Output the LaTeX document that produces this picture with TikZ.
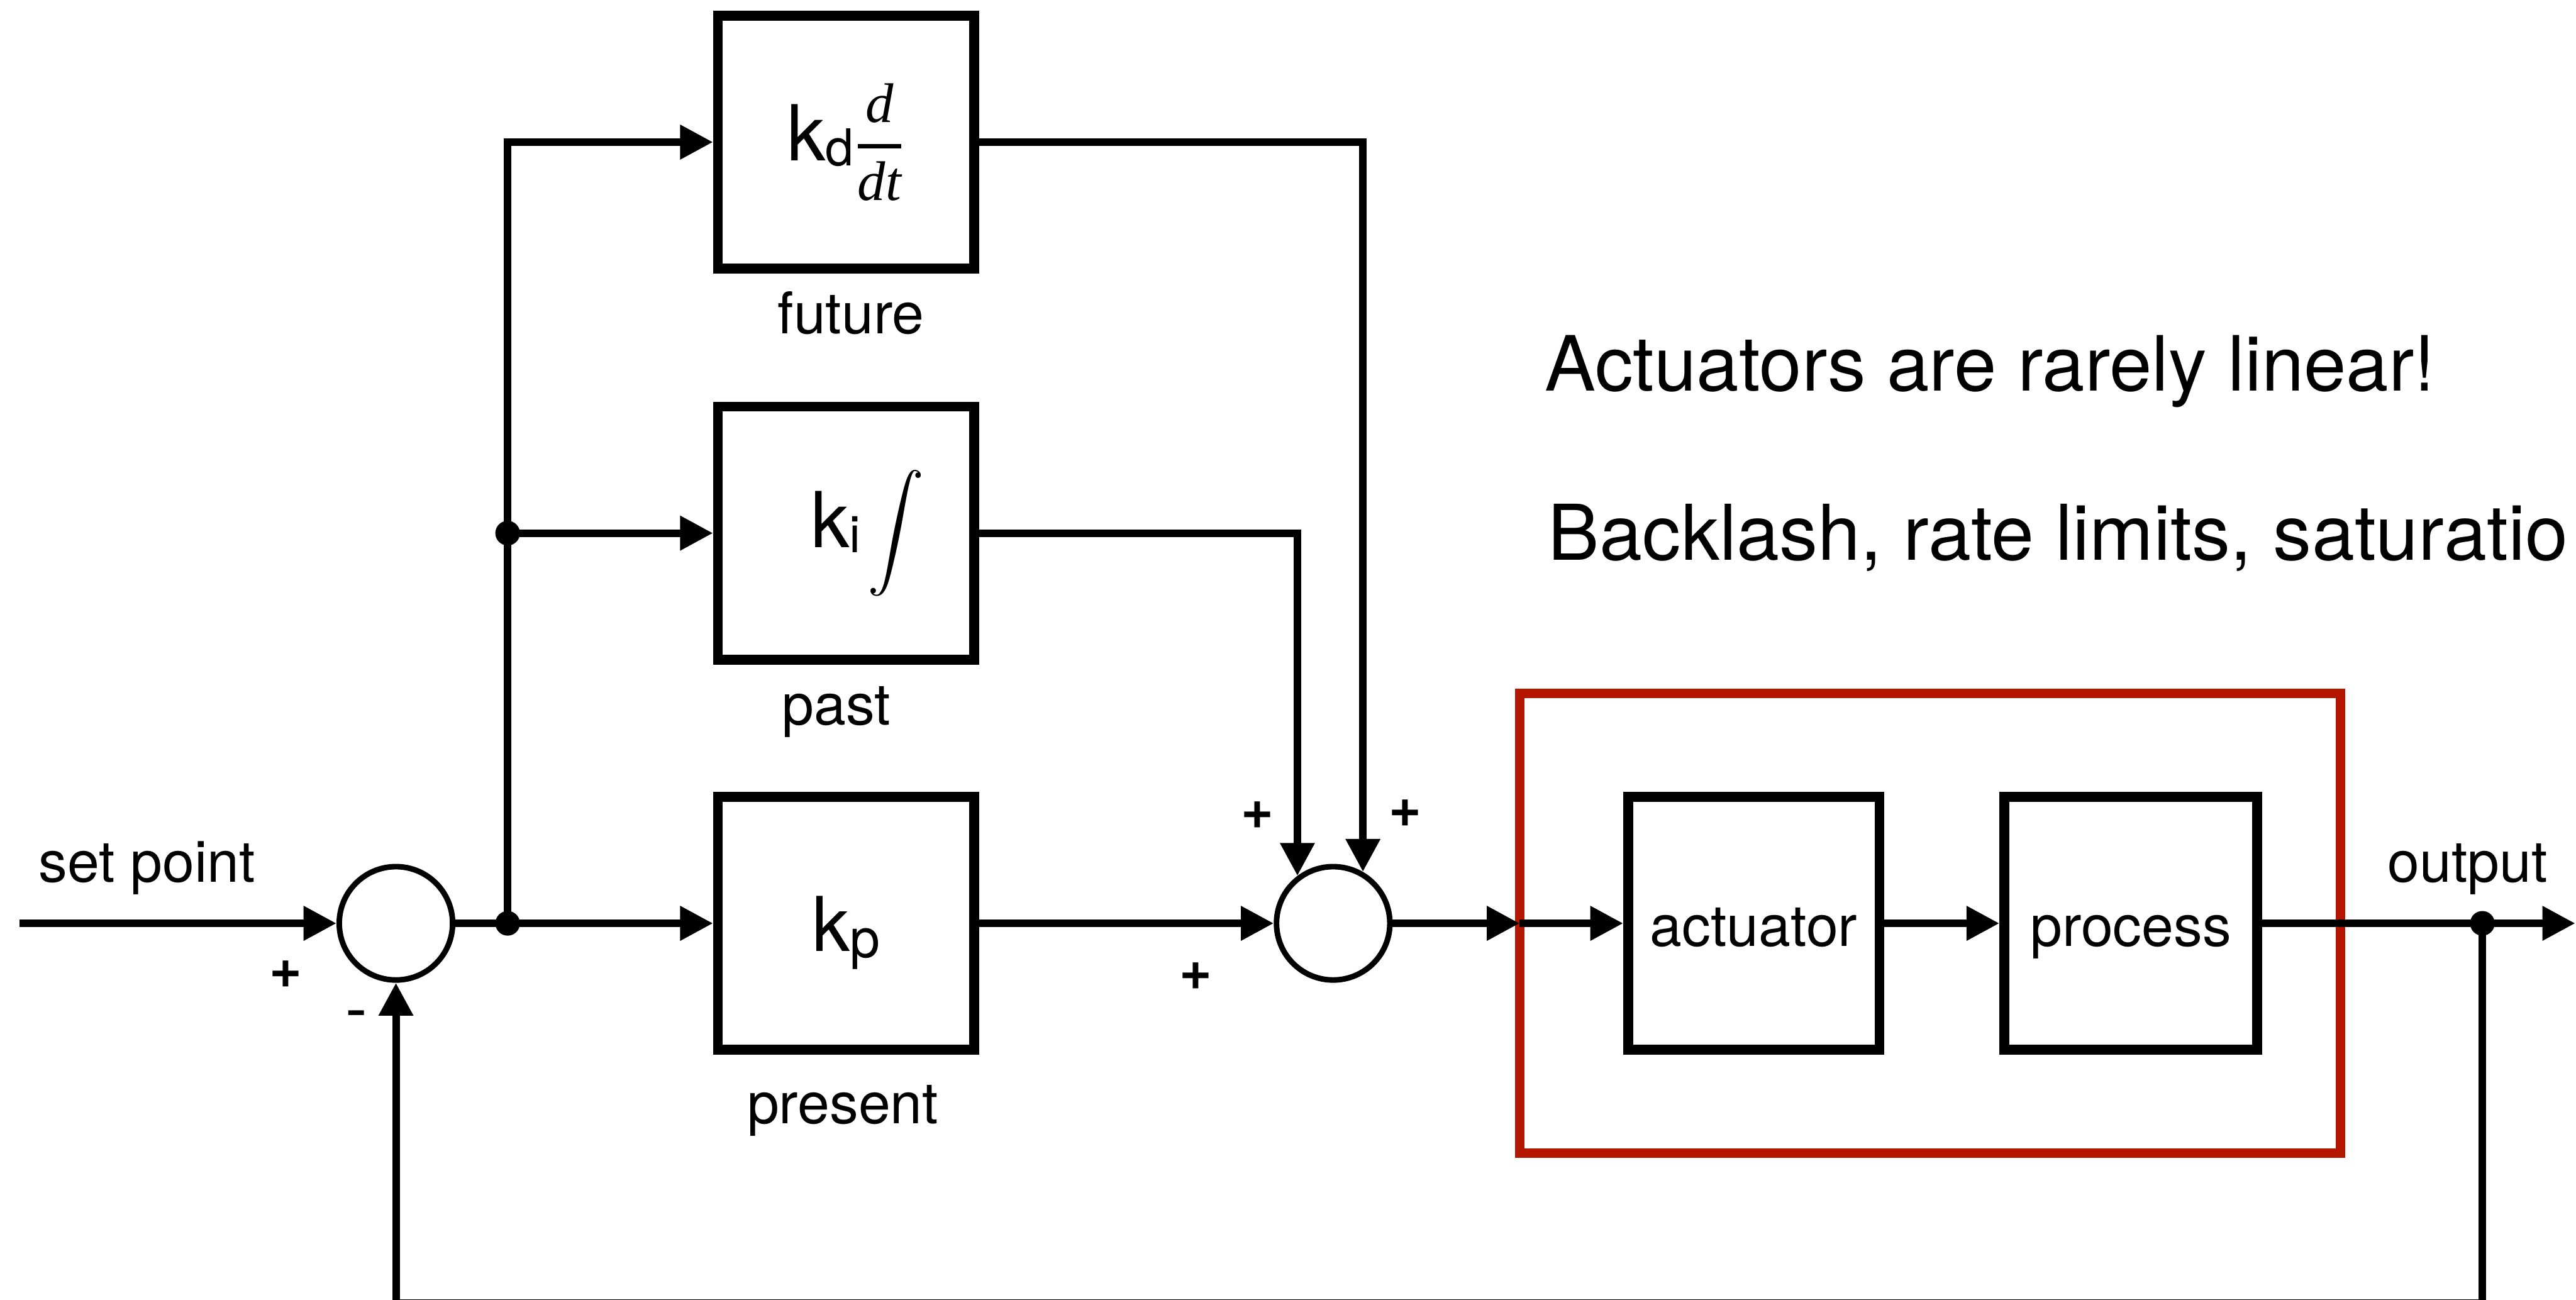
\documentclass[tikz,border=0pt]{standalone}
\usepackage{amsmath}
\usepackage{exscale}
\usepackage{fontspec}
\setmainfont{TeX Gyre Heros}
\newfontfamily\tms{Liberation Serif}
\usetikzlibrary{arrows.meta,calc}
\definecolor{redc}{RGB}{180,22,0}
\begin{document}
\begin{tikzpicture}[x=0.5pt,y=-0.5pt,
  blk/.style={draw, line width=3pt, minimum width=78pt, minimum height=77pt, inner sep=0pt},
  sumc/.style={draw, circle, line width=1.7pt, minimum size=34.5pt, inner sep=0pt},
  conn/.style={line width=2.3pt},
  arr/.style={conn, -{Triangle[length=10pt,width=10pt]}},
  dotn/.style={circle, fill, inner sep=0pt, minimum size=7.5pt},
  lbl/.style={font=\fontsize{17.5}{20}\selectfont, inner sep=0pt},
  sgn/.style={font=\fontsize{17}{20}\selectfont\bfseries, inner sep=0pt},
  msgn/.style={font=\fontsize{20}{22}\selectfont, inner sep=0pt},
  big/.style={inner sep=0pt, anchor=base west},
  redbox/.style={draw=redc, line width=2.8pt}]
\useasboundingbox (0,0) rectangle (1568,791);
\clip (0,0) rectangle (1568,791);

% red frame
\draw[redbox] (925,422) rectangle (1424.5,702);

% blocks
\node[blk] (kd) at (515,86.5) {{\fontsize{23.5}{24}\selectfont k}\raisebox{-1.5pt}{\fontsize{15.5}{15}\selectfont d}{\fontsize{17}{18}\selectfont$\genfrac{}{}{1.3pt}{0}{\text{\tms\itshape d}}{\text{\tms\itshape dt}}$}};
\node[blk] (ki) at (515,324.5) {\hspace*{13pt}{\fontsize{23.5}{24}\selectfont k}\raisebox{-1.5pt}{\fontsize{15.5}{15}\selectfont i}\hspace{2pt}{\fontsize{17.5}{18}\selectfont$\displaystyle\int$}};
\node[blk, text height=17pt, text depth=0pt] (kp) at (515,562) {{\fontsize{23}{24}\selectfont k}\raisebox{-2pt}{\fontsize{16.5}{16}\selectfont p}};
\node[blk, font=\fontsize{17.5}{20}\selectfont, minimum width=76.5pt, text height=14pt, text depth=0pt] (act) at (1067.5,562) {actuator};
\node[blk, font=\fontsize{17.5}{20}\selectfont, minimum width=77pt, text height=14pt, text depth=0pt] (proc) at (1297,562) {process};

% summing junctions
\node[sumc] (s1) at (241,562) {};
\node[sumc] (s2) at (811.5,562) {};

% branch dots
\node[dotn] (j1) at (309,562) {};
\node[dotn] (j2) at (309,324.5) {};
\node[dotn] (j3) at (1511,562) {};

% free ends
\coordinate (in) at (12,562);
\coordinate (out) at (1567.5,562);
\coordinate (rl) at (925,562);
\coordinate (fbR) at (1511,793.2);

% connectors
\draw[arr] (in) -- (s1.west);
\draw[conn] (s1.east) -- (j1.center);
\draw[arr] (j1.center) -- (kp.west);
\draw[arr] (j1.center) |- (kd.west);
\draw[arr] (j2.center) -- (ki.west);
\draw[arr] (kd.east) -| (s2.60);
\draw[arr] (ki.east) -| (s2.127);
\draw[arr] (kp.east) -- (s2.west);
\draw[arr] (s2.east) -- (rl);
\draw[arr] (rl) -- (act.west);
\draw[arr] (act.east) -- (proc.west);
\draw[arr] (proc.east) -- (out);
\draw[arr] (j3.center) -- (fbR) -| (s1.south);

% labels
\node[lbl, anchor=base] (lsp) at (89.5,537) {set point};
\node[lbl, anchor=base] (lfu) at (518,203) {future};
\node[lbl, anchor=base] (lpa) at (509,441) {past};
\node[lbl, anchor=base] (lpr) at (513,684) {present};
\node[lbl, anchor=base] (lou) at (1502,537) {output};
\node[sgn] (p1) at (174,593) {+};
\node[msgn] (m1) at (217,621.5) {-};
\node[sgn] (p2) at (728,594) {+};
\node[sgn] (p3) at (765.5,496) {+};
\node[sgn] (p4) at (855.5,495) {+};

\node[big, font=\fontsize{23.2}{27}\selectfont] (t1) at (940,238) {Actuators are rarely linear!};
\node[big, font=\fontsize{23.4}{27}\selectfont] (t2) at (942,341) {Backlash, rate limits, saturatio};
\end{tikzpicture}
\end{document}
